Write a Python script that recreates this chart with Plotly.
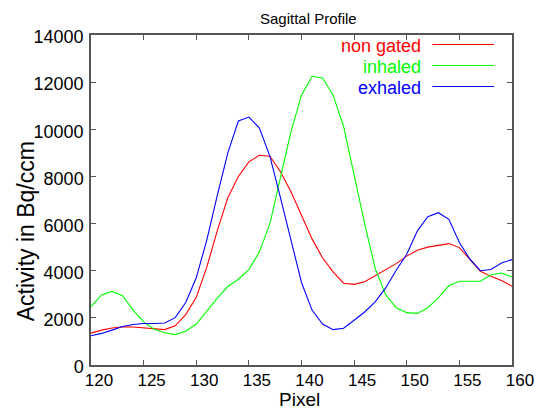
import plotly.graph_objects as go

pixel = [120, 121, 122, 123, 124, 125, 126, 127, 128, 129, 130,
         131, 132, 133, 134, 135, 136, 137, 138, 139, 140,
         141, 142, 143, 144, 145, 146, 147, 148, 149, 150,
         151, 152, 153, 154, 155, 156, 157, 158, 159, 160]

non_gated = [1350, 1480, 1570, 1620, 1610, 1570, 1540, 1500, 1660, 2140, 2870,
             4150, 5700, 7100, 8000, 8620, 8900, 8860, 8200, 7350, 6350,
             5350, 4550, 3950, 3470, 3420, 3530, 3780, 4050, 4300, 4620,
             4870, 5000, 5070, 5150, 4980, 4460, 3980, 3760, 3580, 3340]

inhaled = [2480, 2970, 3120, 2940, 2330, 1830, 1520, 1370, 1290, 1430, 1740,
           2280, 2840, 3330, 3640, 4050, 4800, 6000, 7900, 9900, 11450,
           12250, 12180, 11450, 10120, 8000, 6000, 4100, 2980, 2430, 2220,
           2190, 2430, 2850, 3360, 3550, 3550, 3550, 3830, 3900, 3730]

exhaled = [1240, 1340, 1480, 1630, 1720, 1760, 1760, 1780, 2010, 2650, 3700,
           5300, 7200, 9000, 10350, 10520, 10050, 8850, 7100, 5300, 3500,
           2330, 1740, 1500, 1560, 1900, 2250, 2680, 3270, 4020, 4700,
           5680, 6290, 6460, 6180, 5200, 4490, 4000, 4050, 4330, 4470]

series_names = ["non gated", "inhaled", "exhaled"]
series_values = [non_gated, inhaled, exhaled]
series_colors = ["#ff0000", "#00ff00", "#0000ff"]

x_ticks = [120, 125, 130, 135, 140, 145, 150, 155, 160]
y_ticks = [0, 2000, 4000, 6000, 8000, 10000, 12000, 14000]

FONT = "Liberation Sans, Arial, sans-serif"

fig = go.Figure()
for name, vals, col in zip(series_names, series_values, series_colors):
    fig.add_trace(go.Scatter(x=pixel, y=vals, mode="lines", name=name,
                             line=dict(color=col, width=1.1), showlegend=False))

W, H = 546, 412
L, R, T, B = 91, 32, 35, 47
pw, ph = W - L - R, H - T - B

def px(xp):
    return (xp - L) / pw

def py(yp):
    return (H - B - yp) / ph

axis_common = dict(showgrid=False, zeroline=False, showline=True, mirror="ticks",
                   linecolor="#555555", linewidth=1.5, ticks="inside", ticklen=5,
                   tickcolor="#555555", tickwidth=1)

fig.update_xaxes(range=[120, 160], tickvals=x_ticks, tickformat="d",
                 ticklabelshift=8, ticklabelstandoff=-1,
                 tickfont=dict(family=FONT, size=17, color="black"),
                 **axis_common)
fig.update_yaxes(range=[0, 14000], tickvals=y_ticks, tickformat="d",
                 ticklabelshift=2, ticklabelstandoff=2,
                 tickfont=dict(family=FONT, size=18, color="black"),
                 **axis_common)

annotations = [
    dict(text="Sagittal Profile", x=px(310), y=py(19), xref="paper", yref="paper",
         showarrow=False, xanchor="center", yanchor="middle",
         font=dict(family=FONT, size=15, color="black")),
    dict(text="Pixel", x=px(300), y=py(411.5), xref="paper", yref="paper",
         showarrow=False, xanchor="center", yanchor="bottom",
         font=dict(family=FONT, size=19, color="black")),
    dict(text="Activity in Bq/ccm", x=px(26), y=py(231), xref="paper", yref="paper",
         showarrow=False, xanchor="center", yanchor="middle", textangle=-90,
         font=dict(family=FONT, size=23, color="black")),
]
shapes = []
legend_rows = [46, 67, 88]
for name, col, yr in zip(series_names, series_colors, legend_rows):
    annotations.append(dict(text=name, x=px(425), y=py(yr), xref="paper", yref="paper",
                            showarrow=False, xanchor="right", yanchor="middle",
                            font=dict(family=FONT, size=18, color=col)))
    shapes.append(dict(type="line", xref="paper", yref="paper",
                       x0=px(434), x1=px(496), y0=py(yr - 1.5), y1=py(yr - 1.5),
                       line=dict(color=col, width=1.1)))

fig.update_layout(width=W, height=H, margin=dict(l=L, r=R, t=T, b=B),
                  paper_bgcolor="white", plot_bgcolor="white",
                  annotations=annotations, shapes=shapes,
                  font=dict(family=FONT, color="black"))

fig.write_html("out.html")
